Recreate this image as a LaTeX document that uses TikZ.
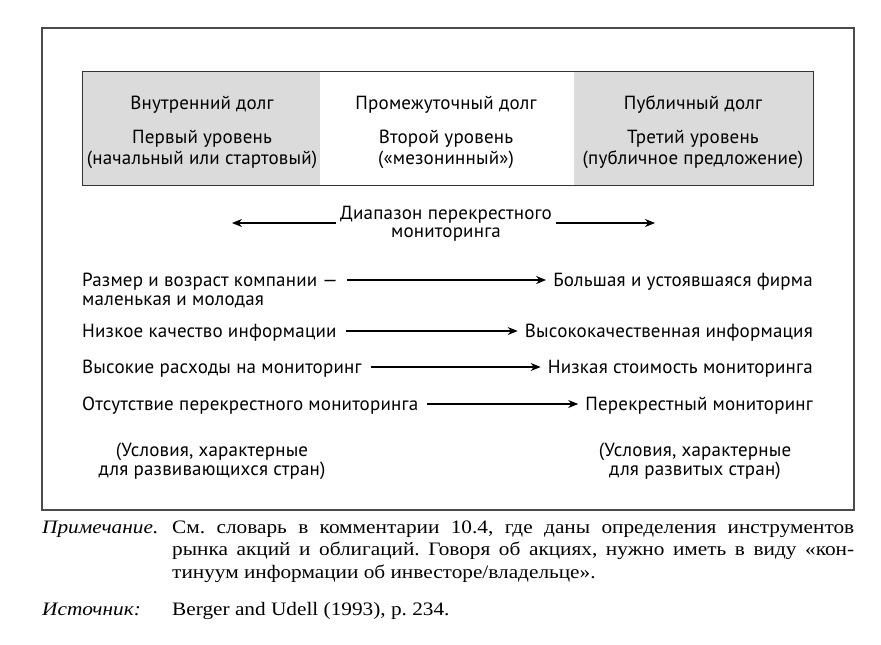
\documentclass[tikz,border=0pt]{standalone}
\usepackage{fontspec}
\setmainfont{PT Sans}[LetterSpace=1.0]
\newfontfamily\notefont[FakeStretch=1.12]{Liberation Serif}
\usetikzlibrary{arrows.meta}
\frenchspacing
\begin{document}
\begin{tikzpicture}[x=1pt,y=-1pt,
  txt/.style={font=\fontsize{19}{21}\selectfont, inner sep=0pt},
  lbl/.style={txt, anchor=base west},
  rlbl/.style={txt, anchor=base east},
  ctr/.style={txt, anchor=base},
  arr/.style={draw=black, line width=1.1pt, -{Stealth[length=10pt,width=8pt]}},
  frame/.style={draw=black!70, line width=1.3pt},
  cell/.style={fill=gray!28},
  note/.style={font=\notefont\fontsize{19}{22.5}\selectfont, inner sep=0pt, anchor=base west}]
\useasboundingbox (0,0) rectangle (881,645);
\fill[white] (0,0) rectangle (881,645);
% outer frame
\draw[frame] (42,28) rectangle (854,510);
% table
\fill[cell] (82,71) rectangle (320,185);
\fill[cell] (574,71) rectangle (813,185);
\draw[line width=1pt, black!80] (82,71) rectangle (813,185);
% column texts
\node[ctr] (c1a) at (202,109) {Внутренний долг};
\node[ctr] (c1b) at (202,143) {Первый уровень};
\node[ctr] (c1c) at (202,164) {(начальный или стартовый)};
\node[ctr] (c2a) at (446,109) {Промежуточный долг};
\node[ctr] (c2b) at (446,143) {Второй уровень};
\node[ctr] (c2c) at (446,164) {(«мезонинный»)};
\node[ctr] (c3a) at (693,109) {Публичный долг};
\node[ctr] (c3b) at (693,143) {Третий уровень};
\node[ctr] (c3c) at (693,164) {(публичное предложение)};
% range
\node[txt, align=center, inner sep=4pt, font=\fontsize{19}{18}\selectfont] (dia) at (446,224) {Диапазон перекрестного\\мониторинга};
\coordinate (dl) at (232,223);
\coordinate (dr) at (655,223);
\draw[arr] (dia.west |- dl) -- (dl);
\draw[arr] (dia.east |- dr) -- (dr);
% rows
\node[lbl] (l1) at (82,286) {Размер и возраст компании —};
\node[lbl] (l1b) at (82,305) {маленькая и молодая};
\node[rlbl] (r1) at (813,286) {Большая и устоявшаяся фирма};
\node[lbl] (l2) at (82,337) {Низкое качество информации};
\node[rlbl] (r2) at (813,337) {Высококачественная информация};
\node[lbl] (l3) at (82,373) {Высокие расходы на мониторинг};
\node[rlbl] (r3) at (813,373) {Низкая стоимость мониторинга};
\node[lbl] (l4) at (82,410) {Отсутствие перекрестного мониторинга};
\node[rlbl] (r4) at (813,410) {Перекрестный мониторинг};
\foreach \i in {1,2,3,4}{
  \draw[arr, shorten <=9pt, shorten >=7pt] ([yshift=6pt]l\i.base east) -- ([yshift=6pt]r\i.base west);
}
% conditions
\node[ctr] (d1a) at (212,456) {(Условия, характерные};
\node[ctr] (d1b) at (212,475) {для развивающихся стран)};
\node[ctr] (d2a) at (695,456) {(Условия, характерные};
\node[ctr] (d2b) at (695,475) {для развитых стран)};
% note
\node[note, font=\notefont\itshape\fontsize{19}{22.5}\selectfont] (nlab) at (42,533) {Примечание.};
\node[note] (ntext) at (172,533) {\parbox[t]{682pt}{\fontsize{19}{22.5}\selectfont См. словарь в комментарии 10.4, где даны определения инструментов\linebreak рынка акций и облигаций. Говоря об акциях, нужно иметь в виду «кон-\linebreak тинуум информации об инвесторе/владельце».}};
\node[note, font=\notefont\itshape\fontsize{19}{22.5}\selectfont] (slab) at (42,615) {Источник:};
\node[note] (stext) at (172,615) {Berger and Udell (1993), p. 234.};
\end{tikzpicture}
\end{document}
